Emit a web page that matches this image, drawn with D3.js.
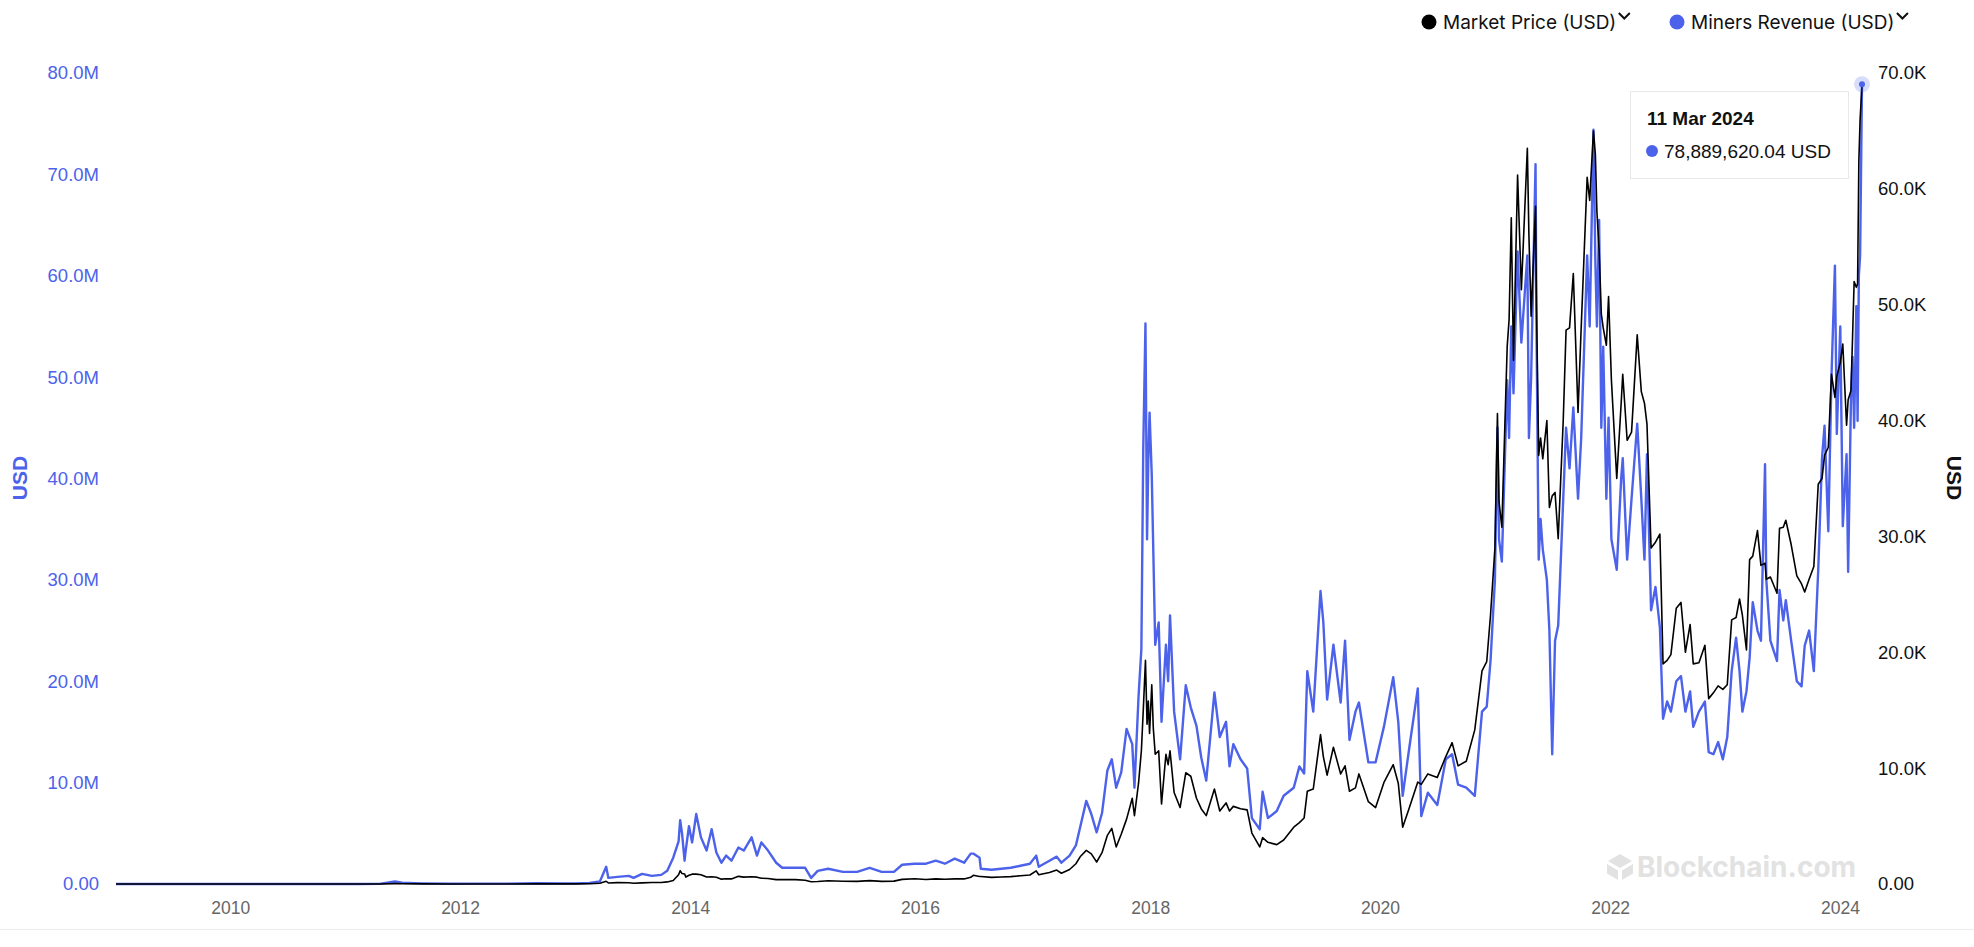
<!DOCTYPE html>
<html>
<head>
<meta charset="utf-8">
<script src="https://cdn.jsdelivr.net/npm/d3@7"></script>
<style>
  html, body { margin: 0; padding: 0; background: #fff; }
  svg { display: block; }
</style>
</head>
<body>
<svg id="chart" width="1974" height="947"></svg>
<script>
// ---- DATA ----
const dates = [
"2009-01-03","2009-07-01","2010-01-01","2010-07-18","2010-11-08","2011-02-10","2011-04-20","2011-06-08","2011-07-01","2011-09-01",
"2011-12-01","2012-03-01","2012-06-01","2012-09-01","2012-11-28","2013-01-01","2013-02-15","2013-03-20","2013-04-09","2013-04-16",
"2013-05-15","2013-06-20","2013-07-05","2013-08-01","2013-09-01","2013-10-01","2013-10-20","2013-11-08","2013-11-25","2013-11-30",
"2013-12-06","2013-12-14","2013-12-18","2013-12-28","2014-01-07","2014-01-20","2014-02-04","2014-02-22","2014-03-10","2014-03-25",
"2014-04-10","2014-04-25","2014-05-12","2014-06-03","2014-06-20","2014-07-15","2014-08-01","2014-08-15","2014-09-05","2014-10-01",
"2014-10-20","2014-12-01","2015-01-01","2015-01-20","2015-02-10","2015-03-15","2015-05-01","2015-06-15","2015-07-25","2015-09-01",
"2015-10-10","2015-11-05","2015-12-15","2016-01-20","2016-02-20","2016-03-20","2016-04-20","2016-05-20","2016-06-10","2016-06-18",
"2016-07-08","2016-07-12","2016-08-15","2016-09-15","2016-10-15","2016-11-15","2016-12-15","2017-01-04","2017-01-12","2017-02-15",
"2017-03-10","2017-03-25","2017-04-20","2017-05-10","2017-05-25","2017-06-12","2017-06-28","2017-07-15","2017-08-01","2017-08-18",
"2017-09-01","2017-09-15","2017-10-01","2017-10-18","2017-11-05","2017-11-12","2017-11-25","2017-12-04","2017-12-10","2017-12-17",
"2017-12-22","2017-12-26","2017-12-30","2018-01-06","2018-01-11","2018-01-17","2018-01-28","2018-02-06","2018-02-20","2018-02-27",
"2018-03-05","2018-03-18","2018-04-06","2018-04-24","2018-05-10","2018-05-28","2018-06-12","2018-06-28","2018-07-24","2018-08-10",
"2018-08-30","2018-09-10","2018-09-22","2018-10-15","2018-11-05","2018-11-20","2018-12-15","2018-12-24","2019-01-10","2019-02-07",
"2019-03-01","2019-04-02","2019-04-20","2019-05-05","2019-05-15","2019-06-03","2019-06-26","2019-07-05","2019-07-17","2019-08-06",
"2019-08-29","2019-09-12","2019-09-26","2019-10-15","2019-10-26","2019-11-25","2019-12-18","2020-01-14","2020-02-12","2020-02-28",
"2020-03-13","2020-04-01","2020-04-30","2020-05-11","2020-06-01","2020-07-01","2020-07-28","2020-08-17","2020-09-05","2020-10-01",
"2020-10-28","2020-11-20","2020-12-05","2020-12-17","2020-12-31","2021-01-08","2021-01-13","2021-01-22","2021-02-08","2021-02-14",
"2021-02-21","2021-02-28","2021-03-13","2021-03-25","2021-04-13","2021-04-18","2021-04-25","2021-05-09","2021-05-12","2021-05-19",
"2021-05-25","2021-06-01","2021-06-14","2021-06-22","2021-07-01","2021-07-10","2021-07-20","2021-08-05","2021-08-14","2021-08-25",
"2021-09-06","2021-09-21","2021-10-01","2021-10-20","2021-10-28","2021-11-09","2021-11-15","2021-11-20","2021-11-27","2021-12-04",
"2021-12-10","2021-12-20","2021-12-27","2022-01-05","2022-01-22","2022-02-05","2022-02-10","2022-02-24","2022-03-10","2022-03-28",
"2022-04-10","2022-04-20","2022-04-28","2022-05-11","2022-05-25","2022-06-08","2022-06-18","2022-07-01","2022-07-13","2022-07-30",
"2022-08-14","2022-08-28","2022-09-12","2022-09-22","2022-10-10","2022-10-29","2022-11-10","2022-11-25","2022-12-10","2022-12-25",
"2023-01-08","2023-01-22","2023-02-05","2023-02-16","2023-02-25","2023-03-10","2023-03-20","2023-03-30","2023-04-14","2023-04-25",
"2023-05-08","2023-05-12","2023-05-25","2023-06-15","2023-06-23","2023-07-05","2023-07-13","2023-07-30","2023-08-17","2023-09-01",
"2023-09-11","2023-09-25","2023-10-10","2023-10-24","2023-11-05","2023-11-13","2023-11-25","2023-12-05","2023-12-16","2023-12-22",
"2024-01-02","2024-01-10","2024-01-22","2024-01-27","2024-02-05","2024-02-10","2024-02-15","2024-02-22","2024-02-26","2024-03-01",
"2024-03-05","2024-03-11"
];

// Market Price, thousands of USD (right axis)
const marketPriceK = [
0,0,0,0.0001,0.0003,0.001,0.001,0.029,0.016,0.008,
0.003,0.005,0.005,0.010,0.012,0.013,0.027,0.06,0.23,0.09,
0.12,0.11,0.07,0.10,0.13,0.13,0.18,0.30,0.80,1.15,
0.90,0.87,0.60,0.75,0.85,0.85,0.80,0.60,0.63,0.58,
0.42,0.45,0.44,0.66,0.59,0.62,0.59,0.50,0.48,0.38,
0.38,0.38,0.32,0.20,0.22,0.28,0.24,0.23,0.29,0.23,
0.25,0.40,0.45,0.39,0.44,0.41,0.44,0.44,0.58,0.75,
0.65,0.65,0.57,0.61,0.64,0.71,0.78,1.13,0.80,1.00,
1.20,0.93,1.25,1.75,2.40,2.90,2.60,1.90,2.70,4.20,
4.80,3.20,4.30,5.60,7.40,5.90,8.70,11.5,15.0,19.3,
13.8,15.8,13.0,17.2,13.4,11.2,11.5,6.9,11.2,10.3,
11.5,7.9,6.6,9.6,9.3,7.4,6.5,5.9,8.2,6.3,
7.0,6.3,6.7,6.5,6.4,4.4,3.2,4.0,3.6,3.4,
3.8,4.9,5.3,5.7,8.0,8.2,12.9,11.0,9.4,11.8,
9.5,10.2,8.0,8.3,9.5,7.1,6.6,8.8,10.3,8.7,
4.9,6.4,8.8,8.6,9.5,9.2,11.0,12.2,10.2,10.6,
13.3,18.4,19.2,23.2,29.0,40.6,33.0,30.8,46.4,48.7,
57.5,45.2,61.2,51.3,63.5,56.0,49.0,58.5,50.0,37.0,
38.5,36.7,40.0,32.5,33.5,33.8,29.8,40.0,47.8,48.0,
52.7,40.7,48.0,61.0,59.0,65.0,63.0,58.0,54.7,49.2,
48.0,46.5,50.7,43.5,35.0,41.5,44.0,38.3,39.0,47.4,
42.5,41.5,39.7,29.0,29.5,30.2,19.0,19.3,19.8,23.8,
24.3,20.0,22.4,19.0,19.1,20.6,16.0,16.5,17.1,16.8,
17.2,22.8,23.0,24.6,23.2,20.2,28.0,28.3,30.5,27.5,
27.7,26.3,26.5,25.1,30.7,30.8,31.4,29.3,26.6,25.9,
25.2,26.3,27.4,34.5,35.0,37.0,37.7,44.0,42.0,43.8,
45.0,46.6,39.6,41.8,42.6,47.2,52.0,51.5,51.8,62.4,
66.0,69.0
];

// Miners Revenue, millions of USD (left axis)
const minersRevenueM = [
0,0,0,0.0005,0.002,0.007,0.01,0.25,0.12,0.06,
0.02,0.035,0.04,0.08,0.05,0.05,0.11,0.25,1.7,0.6,
0.7,0.8,0.6,1.0,0.8,0.9,1.3,2.6,4.2,6.3,
5.0,2.3,3.4,5.7,4.1,6.9,4.6,3.3,5.4,3.1,
2.1,2.8,2.3,3.6,3.3,4.6,2.8,4.1,3.3,2.1,
1.6,1.6,1.6,0.6,1.3,1.5,1.2,1.2,1.6,1.2,
1.2,1.9,2.0,2.0,2.3,2.0,2.5,2.1,3.0,3.0,
2.6,1.5,1.4,1.5,1.6,1.8,2.0,2.8,1.7,2.3,
2.7,2.1,2.8,3.8,5.8,8.2,6.9,5.1,7.0,11.2,
12.3,9.5,11.0,15.3,13.8,9.5,18.5,23.2,43.0,55.3,
34.0,41.8,46.5,40.3,32.7,23.6,25.8,16.0,23.6,20.0,
26.5,17.0,12.3,19.6,17.4,15.6,12.5,10.2,18.9,14.5,
16.0,11.6,13.8,12.3,11.4,6.5,5.4,9.1,6.5,7.2,
8.7,9.5,11.6,10.9,21.0,17.0,28.9,25.8,18.2,23.6,
17.9,24.0,14.2,17.0,17.9,12.0,12.0,15.6,20.4,16.0,
8.7,13.0,19.3,6.7,9.0,7.8,12.3,12.8,9.8,9.5,
8.7,17.0,17.5,22.0,30.0,45.0,34.0,31.8,49.7,44.0,
55.0,48.4,62.4,53.4,62.0,44.0,50.0,71.0,55.0,32.0,
36.0,33.0,30.0,25.0,12.8,24.0,25.5,38.0,45.0,41.0,
47.0,38.0,44.0,62.0,55.0,74.4,61.5,55.0,65.5,45.0,
53.0,38.0,46.0,34.0,31.0,40.0,42.0,32.0,38.0,45.4,
38.0,32.0,42.4,27.0,29.3,25.3,16.3,18.0,17.0,20.0,
20.5,17.0,19.0,15.5,17.0,18.0,13.0,12.8,14.0,12.3,
14.5,21.0,24.3,21.0,17.0,19.0,22.3,27.8,25.0,24.0,
41.4,30.0,24.0,22.0,29.0,26.0,28.0,24.0,20.0,19.5,
23.5,25.0,21.0,31.0,42.0,45.2,34.8,50.0,61.0,44.4,
55.0,35.3,42.4,30.8,48.0,52.0,45.0,57.0,45.7,60.0,
62.0,78.88962004
];

const leftTicks = [0, 10e6, 20e6, 30e6, 40e6, 50e6, 60e6, 70e6, 80e6];
const rightTicks = [0, 10e3, 20e3, 30e3, 40e3, 50e3, 60e3, 70e3];
const yearTicks = [2010, 2012, 2014, 2016, 2018, 2020, 2022, 2024];
const legendItems = ["Market Price (USD)", "Miners Revenue (USD)"];
const tooltipDate = "11 Mar 2024";
const tooltipValue = "78,889,620.04 USD";

// ---- DRAWING ----
const BLUE = "#4C62EA";
const parse = d3.timeParse("%Y-%m-%d");
const rows = dates.map((d, i) => ({ date: parse(d), price: marketPriceK[i] * 1e3, rev: minersRevenueM[i] * 1e6 }));

const svg = d3.select("#chart");
const x = d3.scaleTime().domain([parse("2009-01-03"), parse("2024-03-11")]).range([116, 1862]);
const yL = d3.scaleLinear().domain([0, 80e6]).range([884, 73]);
const yR = d3.scaleLinear().domain([0, 70e3]).range([884, 73]);

const tickFont = "Liberation Sans, Arial, Helvetica, sans-serif";

// bottom border
svg.append("line").attr("x1", 0).attr("x2", 1974).attr("y1", 929.5).attr("y2", 929.5)
  .attr("stroke", "#ececec").attr("stroke-width", 1);

// watermark
const wm = svg.append("g").attr("fill", "#e2e2e2");
wm.append("path").attr("d", "M1620 854 L1632 861 L1620 868 L1608 861 Z");
wm.append("path").attr("d", "M1607 864 L1618 870.5 L1618 880 L1607 873.5 Z");
wm.append("path").attr("d", "M1633 864 L1622 870.5 L1622 880 L1633 873.5 Z");
wm.append("text").attr("x", 1637).attr("y", 877).text("Blockchain.com")
  .attr("font-family", "Inter, sans-serif").attr("font-weight", 700).attr("font-size", 28);

// left axis
const axL = d3.axisLeft(yL).tickValues(leftTicks).tickSize(0).tickPadding(0)
  .tickFormat(d => d === 0 ? "0.00" : (d / 1e6).toFixed(1) + "M");
const gL = svg.append("g").attr("transform", "translate(99,0)").call(axL);
gL.select(".domain").remove();
gL.selectAll("text").attr("fill", BLUE).attr("font-size", 18.5).attr("font-family", tickFont);

// right axis
const axR = d3.axisRight(yR).tickValues(rightTicks).tickSize(0).tickPadding(0)
  .tickFormat(d => d === 0 ? "0.00" : (d / 1e3).toFixed(1) + "K");
const gR = svg.append("g").attr("transform", "translate(1878,0)").call(axR);
gR.select(".domain").remove();
gR.selectAll("text").attr("fill", "#111").attr("font-size", 18.5).attr("font-family", tickFont);

// bottom axis
const axB = d3.axisBottom(x).tickValues(yearTicks.map(y => new Date(y, 0, 1))).tickSize(0).tickPadding(0)
  .tickFormat(d3.timeFormat("%Y"));
const gB = svg.append("g").attr("transform", "translate(0,902)").call(axB);
gB.select(".domain").remove();
gB.selectAll("text").attr("fill", "#666").attr("font-size", 17.5).attr("font-family", tickFont);

// axis titles
svg.append("text").attr("transform", "translate(27,478) rotate(-90)").attr("text-anchor", "middle")
  .attr("fill", BLUE).attr("font-weight", 700).attr("font-size", 21).attr("font-family", tickFont).text("USD");
svg.append("text").attr("transform", "translate(1947,478) rotate(90)").attr("text-anchor", "middle")
  .attr("fill", "#111").attr("font-weight", 700).attr("font-size", 21).attr("font-family", tickFont).text("USD");

// lines
const lineRev = d3.line().x(d => x(d.date)).y(d => yL(d.rev)).curve(d3.curveLinear);
const linePrice = d3.line().x(d => x(d.date)).y(d => yR(d.price)).curve(d3.curveLinear);
svg.append("path").datum(rows).attr("d", lineRev).attr("fill", "none")
  .attr("stroke", BLUE).attr("stroke-width", 2.4).attr("stroke-linejoin", "round");
svg.append("path").datum(rows).attr("d", linePrice).attr("fill", "none")
  .attr("stroke", "#000").attr("stroke-width", 1.6).attr("stroke-linejoin", "round");

// highlighted last point
const last = rows[rows.length - 1];
svg.append("circle").attr("cx", x(last.date)).attr("cy", yL(last.rev)).attr("r", 8)
  .attr("fill", BLUE).attr("fill-opacity", 0.22);
svg.append("circle").attr("cx", x(last.date)).attr("cy", yL(last.rev)).attr("r", 3).attr("fill", BLUE);

// legend
const legendColors = ["#000", BLUE];
const legendX = [1429, 1677];
legendItems.forEach((name, i) => {
  const g = svg.append("g");
  g.append("circle").attr("cx", legendX[i]).attr("cy", 22).attr("r", 7.5).attr("fill", legendColors[i]);
  const t = g.append("text").attr("x", legendX[i] + 14).attr("y", 28.5).text(name)
    .attr("font-family", "Inter, sans-serif").attr("font-size", 19).attr("fill", "#111");
  const w = t.node().getComputedTextLength();
  const cx = legendX[i] + 14 + w + 8;
  g.append("path").attr("d", `M${cx - 5.5} 13 L${cx} 18.5 L${cx + 5.5} 13`).attr("fill", "none")
    .attr("stroke", "#111").attr("stroke-width", 2);
});

// tooltip
const tip = svg.append("g");
tip.append("rect").attr("x", 1630.5).attr("y", 91.5).attr("width", 218).attr("height", 87)
  .attr("fill", "#fff").attr("stroke", "#e8e8e8").attr("stroke-width", 1);
tip.append("text").attr("x", 1647).attr("y", 124.5).text(tooltipDate)
  .attr("font-family", tickFont).attr("font-weight", 700).attr("font-size", 19).attr("fill", "#111");
tip.append("circle").attr("cx", 1652).attr("cy", 151).attr("r", 6).attr("fill", BLUE);
tip.append("text").attr("x", 1664).attr("y", 157.5).text(tooltipValue)
  .attr("font-family", tickFont).attr("font-size", 19).attr("fill", "#111");
</script>
</body>
</html>
